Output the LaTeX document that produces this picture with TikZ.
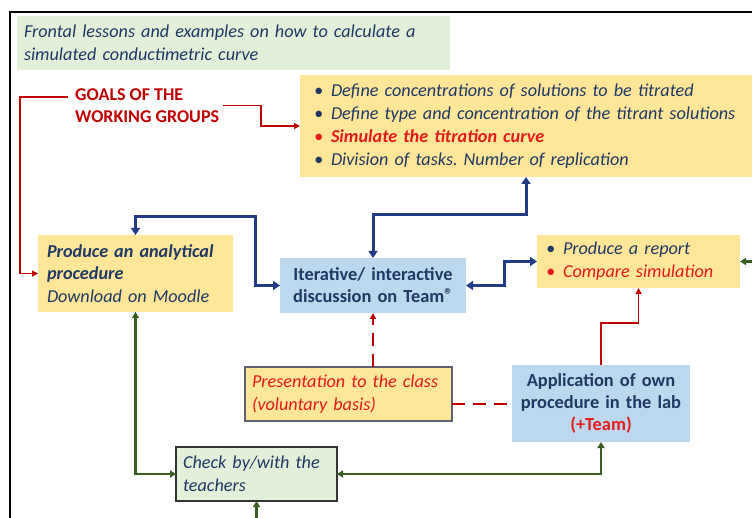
\documentclass[tikz,border=0pt]{standalone}
\usepackage{xcolor}
\usepackage{fontspec}
\setmainfont{Carlito}
\usepackage{tikz}
\usetikzlibrary{arrows.meta,positioning,calc}
\definecolor{wgnavy}{HTML}{1F3864}
\definecolor{wgblueline}{HTML}{203C86}
\definecolor{wgred}{HTML}{C00000}
\definecolor{wgbright}{HTML}{E51A1A}
\definecolor{wggreen}{HTML}{3A5E20}
\definecolor{wgyellow}{HTML}{FFE699}
\definecolor{wgblue}{HTML}{BDD7EE}
\definecolor{wglime}{HTML}{E2EFD9}
\definecolor{wggray}{HTML}{5F6072}
\newcommand{\wgbullet}[1]{\makebox[17pt][l]{\color{#1}\textbullet}}
\frenchspacing

\tikzset{
    wgbox/.style={anchor=north west, inner xsep=8pt, inner ysep=0pt, outer sep=0pt,
                  align=left, text=wgnavy, font=\itshape\fontsize{18.2}{22.8}\selectfont},
    yellowbox/.style={wgbox, fill=wgyellow},
    bluebox/.style={wgbox, fill=wgblue, align=center, font=\bfseries\fontsize{18.4}{22}\selectfont},
    redline/.style={draw=wgred, line width=1.8pt, -{Triangle[length=6pt,width=6pt]}},
    navyline/.style={draw=wgblueline, line width=3pt, {Triangle[length=7pt,width=9pt]}-{Triangle[length=7pt,width=9pt]}},
    greenline/.style={draw=wggreen, line width=2.3pt, {Triangle[length=6pt,width=7pt]}-{Triangle[length=6pt,width=7pt]}},
    dashline/.style={draw=wgred, line width=2pt, dash pattern=on 13pt off 8pt}
}

\begin{document}
\begin{tikzpicture}[x=1pt,y=-1pt]
    \useasboundingbox (0,0) rectangle (752,518);
    % frame of the figure
    \draw[black, line width=1.4pt] (752,12) -- (10,12) -- (10,518);

    % boxes
    \node[wgbox, fill=wglime, minimum width=433pt, minimum height=54pt, text width=419pt, inner xsep=7pt] (lessons) at (17,16)
        {Frontal lessons and examples on how to calculate a\\ simulated conductimetric curve};
    \node[anchor=north west, align=left, text=wgred, inner sep=0pt, font=\bfseries\fontsize{18}{22.5}\selectfont] (goals) at (75,88)
        {GOALS OF THE\\ WORKING GROUPS};
    \node[yellowbox, minimum width=452pt, minimum height=102pt, text width=424pt, inner xsep=14pt] (tasks) at (300,75)
        {\wgbullet{wgnavy}Define concentrations of solutions to be titrated\\
         \wgbullet{wgnavy}Define type and concentration of the titrant solutions\\
         \wgbullet{wgbright}\textcolor{wgbright}{\bfseries Simulate the titration curve}\\
         \wgbullet{wgnavy}Division of tasks. Number of replication};
    \node[yellowbox, minimum width=195pt, minimum height=77pt, text width=177pt, inner xsep=9pt] (produce) at (38,235)
        {{\bfseries Produce an analytical}\\ {\bfseries procedure}\\ Download on Moodle};
    \node[bluebox, minimum width=182pt, minimum height=55pt, text width=170pt] (discussion) at (280,258)
        {Iterative/ interactive\\ discussion on Team{\fontsize{17}{17}\selectfont\raisebox{2pt}{®}}};
    \node[yellowbox, minimum width=203pt, minimum height=53pt, text width=185pt, inner xsep=9pt] (report) at (537,235)
        {\wgbullet{wgnavy}Produce a report\\ \wgbullet{wgbright}\textcolor{wgbright}{Compare simulation}};
    \node[yellowbox, draw=wggray, line width=1.2pt, minimum width=207pt, minimum height=54pt, text width=193pt, text=wgbright, inner xsep=7pt] (presentation) at (245,367)
        {Presentation to the class\\ (voluntary basis)};
    \node[bluebox, minimum width=174pt, minimum height=77pt, text width=162pt] (application) at (512,365)
        {Application of own\\ procedure in the lab\\ \textcolor{wgbright}{(+Team)}};
    \node[wgbox, fill=wglime, draw=black!80, line width=1.2pt, minimum width=161pt, minimum height=54pt, text width=147pt, inner xsep=7pt] (check) at (176,447)
        {Check by/with the\\ teachers};

    % free ends at the edges of the figure
    \coordinate (rightin) at (752,261.5);
    \coordinate (bottomin) at (256.5,518);

    % red connectors
    \draw[redline] ($(goals.north west)+(-7,9)$) -- ++(-48,0) |- (produce.west);
    \draw[redline] ($(goals.east)+(4,0)$) -- ++(38,0) |- (tasks.west);
    \draw[redline] (application.north) -- ++(0,-42) -| (report.south);
    \draw[dashline, -{Triangle[length=6pt,width=6pt]}] (presentation.north -| discussion.south) -- (discussion.south);
    \draw[dashline] (application.west -| presentation.east) -- (application.west);

    % blue connectors
    \draw[navyline] (tasks.south) -- ++(0,38) -| (discussion.north);
    \draw[navyline] (produce.north) -- ++(0,-18) -| ([xshift=-25pt]discussion.west) -- (discussion.west);
    \draw[navyline] (discussion.east) -- ++(38,0) |- (report.west);

    % green connectors
    \draw[greenline] (produce.south) |- (check.west);
    \draw[greenline] (check.east) -| (application.south);
    \draw[greenline, {Triangle[length=6pt,width=7pt]}-] (check.south) -- (bottomin);
    \draw[greenline, {Triangle[length=6pt,width=7pt]}-] (report.east) -- (rightin);
\end{tikzpicture}
\end{document}
